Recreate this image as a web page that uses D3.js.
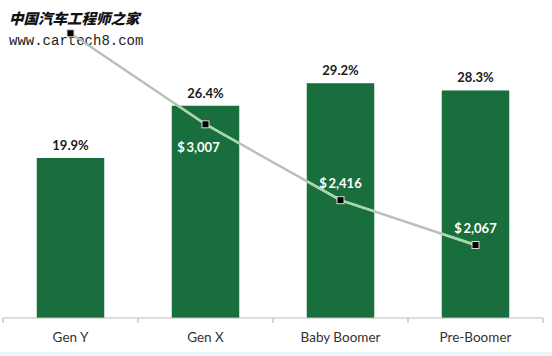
<!DOCTYPE html>
<html><head><meta charset="utf-8">
<script src="https://cdn.jsdelivr.net/npm/d3@7"></script>
<style>html,body{margin:0;padding:0;background:#fff;}svg{display:block;}</style>
</head><body>
<script>
const categories = ["Gen Y", "Gen X", "Baby Boomer", "Pre-Boomer"];
const sharePct = [19.9, 26.4, 29.2, 28.3];
const spending = [3716, 3007, 2416, 2067];
const spendingLabels = [null, "$\u20093,007", "$\u20092,416", "$\u20092,067"];
const shareLabels = ["19.9%", "26.4%", "29.2%", "28.3%"];

const W = 552, H = 356;
const svg = d3.select("body").append("svg").attr("width", W).attr("height", H);
svg.append("rect").attr("width", W).attr("height", H).attr("fill", "#fff");
svg.append("rect").attr("x", 0).attr("y", 352).attr("width", W).attr("height", 4).attr("fill", "#edf3f9");

const x = d3.scaleBand().domain(categories).range([3, 543]).paddingInner(0.5).paddingOuter(0.25);
const y = d3.scaleLinear().domain([0, 30]).range([318, 318 - 30 * 8.04]);
const yL = d3.scaleLinear().domain([0, 4000]).range([510.4, 510.4 - 4000 * 0.1284]);

// watermark
const wm = svg.append("g");
wm.append("text").attr("x", 9).attr("y", 24)
  .attr("font-family", "'Noto Sans CJK SC', sans-serif").attr("font-weight", 900)
  .attr("font-size", 14.5).attr("fill", "#111").attr("font-style", "italic")
  .text("中国汽车工程师之家");
wm.append("text").attr("x", 9).attr("y", 45)
  .attr("font-family", "'Liberation Mono', monospace").attr("font-size", 14)
  .attr("fill", "#222").text("www.cartech8.com");

// bars
svg.selectAll("rect.bar").data(categories).join("rect").attr("class", "bar")
  .attr("x", d => x(d)).attr("width", x.bandwidth())
  .attr("y", (d, i) => y(sharePct[i])).attr("height", (d, i) => y(0) - y(sharePct[i]))
  .attr("fill", "#186f3d");

// axis
const axis = svg.append("g").attr("transform", `translate(0,${y(0)})`)
  .call(d3.axisBottom(x).tickSize(0).tickPadding(14));
axis.select(".domain").attr("stroke", "#bdbdbd").attr("stroke-width", 1.2)
  .attr("d", `M${x.range()[0]},0H${x.range()[1]}`);
axis.selectAll(".tick text").attr("font-family", "Lato, sans-serif").attr("font-size", 13.5).attr("fill", "#333");
const step = x.step();
const bounds = d3.range(categories.length + 1).map(i => x.range()[0] + i * step);
axis.selectAll("line.b").data(bounds).join("line").attr("class", "b")
  .attr("x1", d => d).attr("x2", d => d).attr("y1", 0).attr("y2", 5)
  .attr("stroke", "#bdbdbd").attr("stroke-width", 1.2);

// share labels
svg.selectAll("text.share").data(categories).join("text").attr("class", "share")
  .attr("x", d => x(d) + x.bandwidth() / 2).attr("y", (d, i) => y(sharePct[i]) - 8)
  .attr("text-anchor", "middle").attr("font-family", "Lato, sans-serif")
  .attr("font-weight", 700).attr("font-size", 13).attr("fill", "#1a1a1a")
  .text((d, i) => shareLabels[i]);

// line
const cx = d => x(d) + x.bandwidth() / 2;
const line = d3.line().x(d => cx(d)).y((d, i) => yL(spending[i]));
svg.append("path").datum(categories).attr("d", line)
  .attr("fill", "none").attr("stroke", "#b7c2b7").attr("stroke-width", 2.5);
const clip = svg.append("clipPath").attr("id", "barclip");
clip.selectAll("rect").data(categories).join("rect")
  .attr("x", d => x(d)).attr("width", x.bandwidth())
  .attr("y", (d, i) => y(sharePct[i])).attr("height", (d, i) => y(0) - y(sharePct[i]));
svg.append("path").datum(categories).attr("d", line).attr("clip-path", "url(#barclip)")
  .attr("fill", "none").attr("stroke", "#a9d6a9").attr("stroke-width", 2.5);

svg.selectAll("rect.mk").data(categories).join("rect").attr("class", "mk")
  .attr("x", d => cx(d) - 3.5).attr("y", (d, i) => yL(spending[i]) - 3.5)
  .attr("width", 7).attr("height", 7).attr("fill", "#000")
  .attr("stroke", "#d8d8d8").attr("stroke-width", 1);

svg.selectAll("text.spend").data(categories.filter((d, i) => spendingLabels[i]))
  .join("text").attr("class", "spend")
  .each(function(d) {
    const i = categories.indexOf(d);
    const below = spending[i] > 2900;
    d3.select(this)
      .attr("x", cx(d) - (below ? 7 : 0))
      .attr("y", yL(spending[i]) + (below ? 28 : -12));
  })
  .attr("text-anchor", "middle").attr("font-family", "Lato, sans-serif")
  .attr("font-weight", 700).attr("font-size", 13).attr("fill", "#fff")
  .text(d => spendingLabels[categories.indexOf(d)]);
</script>
</body></html>
